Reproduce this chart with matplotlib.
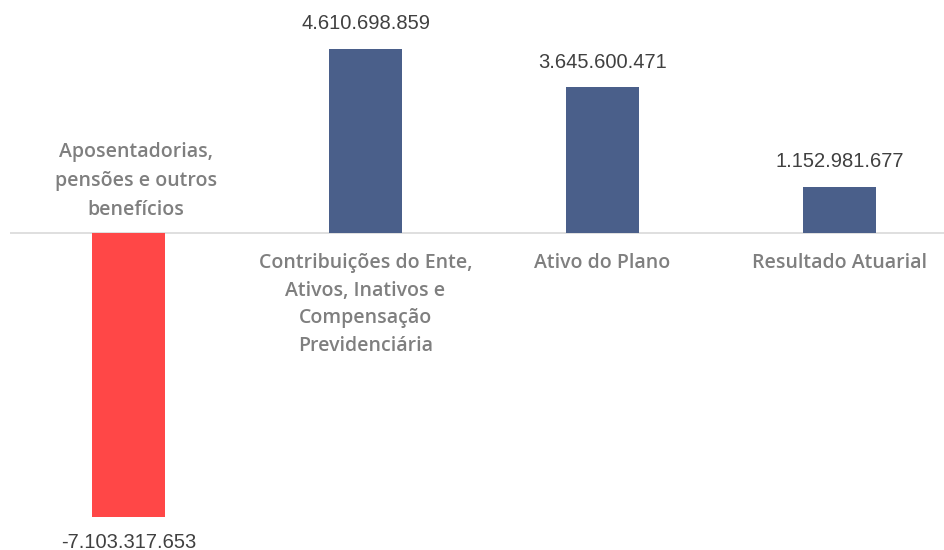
import matplotlib.pyplot as plt

# dados
categorias = [
    "Aposentadorias,\npensões e outros\nbenefícios",
    "Contribuições do Ente,\nAtivos, Inativos e\nCompensação\nPrevidenciária",
    "Ativo do Plano",
    "Resultado Atuarial",
]
valores = [-7103317653, 4610698859, 3645600471, 1152981677]
rotulos = ["-7.103.317.653", "4.610.698.859", "3.645.600.471", "1.152.981.677"]
cores = ["#ff4747", "#4a5f8a", "#4a5f8a", "#4a5f8a"]

W, H = 944, 550
fig = plt.figure(figsize=(W / 100, H / 100), dpi=100)
ax = fig.add_axes([10 / W, 0, 948 / W, 1])

px_por_bi = 40.0
base = 233
ax.set_ylim(-(H - base) / px_por_bi * 1e9, base / px_por_bi * 1e9)
ax.set_xlim(-0.5, 3.5)
ax.axis("off")

x = range(len(valores))
ax.bar(x, valores, width=0.31, color=cores, zorder=2)
ax.axhline(0, color="#d9d9d9", lw=1.2, zorder=1)

# rótulos de valor
off = 25 / px_por_bi * 1e9
for i, (v, r) in enumerate(zip(valores, rotulos)):
    y = v + off if v > 0 else v - off
    ax.text(i, y, r, ha="center", va="center", fontsize=14.5,
            family="Liberation Sans", color="#404040")

# nomes das categorias
for i, (v, c) in enumerate(zip(valores, categorias)):
    if v > 0:
        ax.text(i, -20 / px_por_bi * 1e9, c, ha="center", va="top", fontsize=14,
                family="Open Sans", weight="semibold", color="#7f7f7f",
                linespacing=1.5)
    else:
        ax.text(i + 0.03, 13 / px_por_bi * 1e9, c, ha="center", va="bottom", fontsize=14,
                family="Open Sans", weight="semibold", color="#7f7f7f",
                linespacing=1.6)

fig.savefig("out.png", dpi=100)
